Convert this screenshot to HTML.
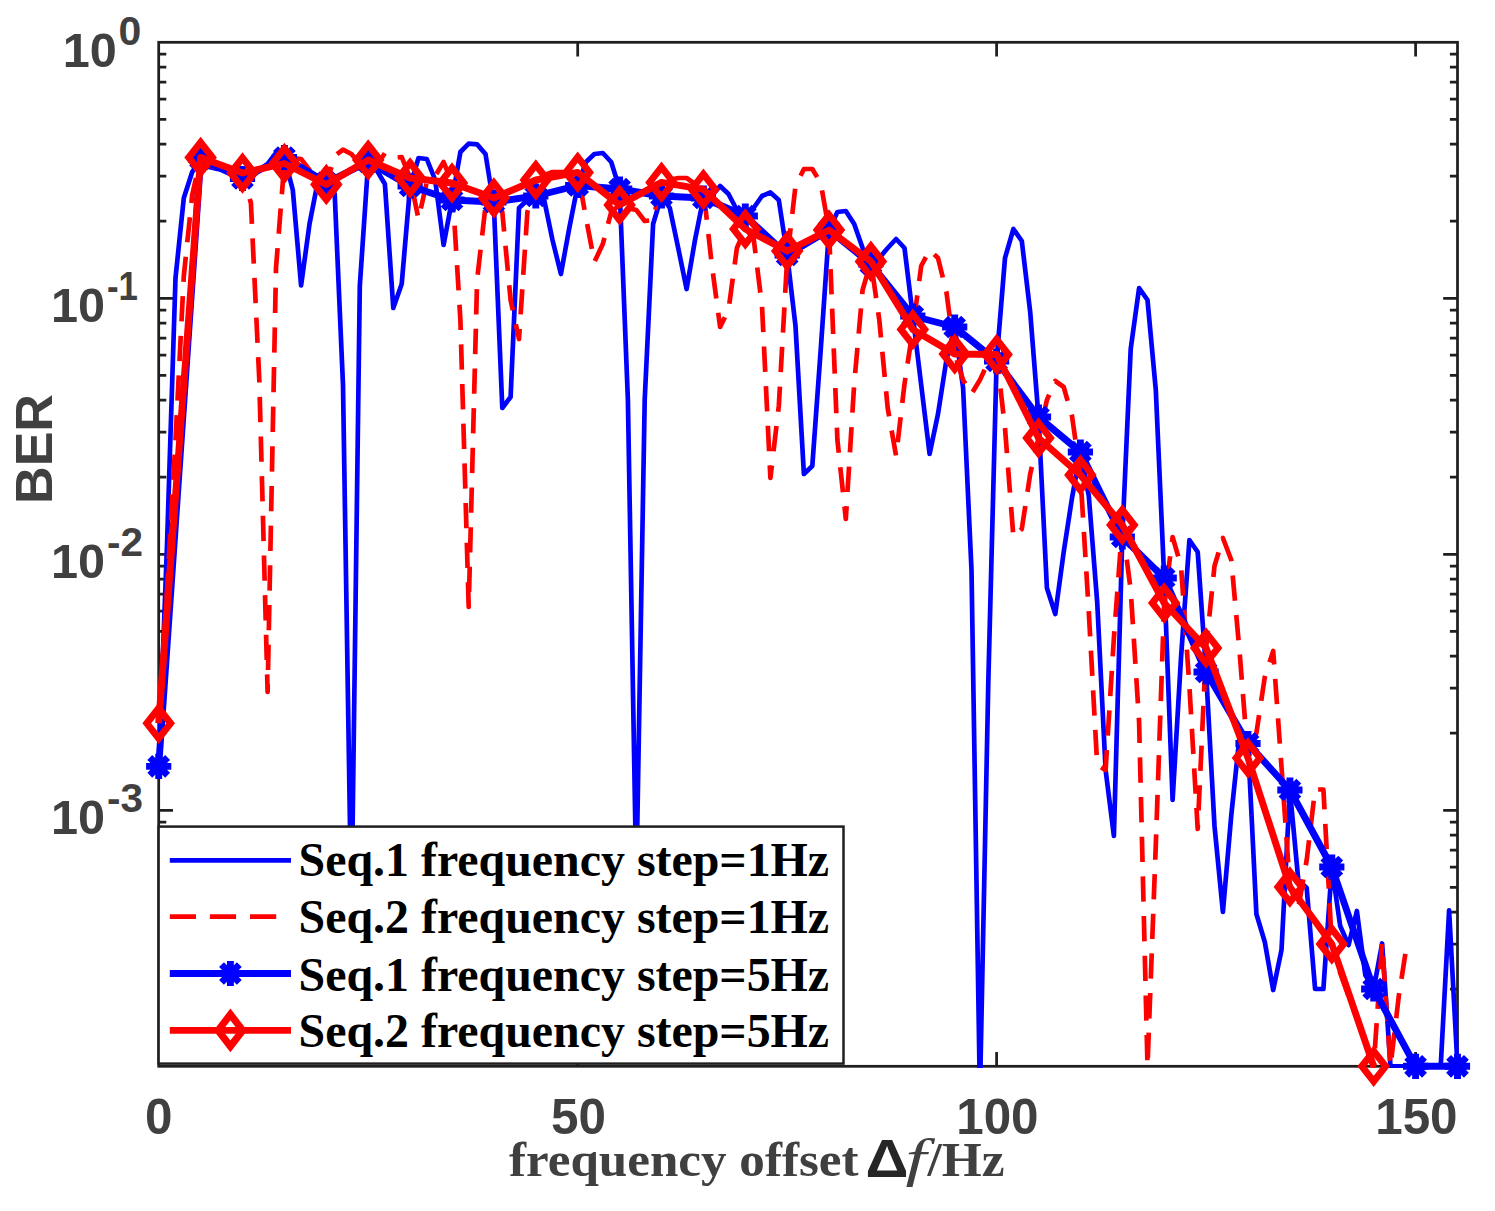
<!DOCTYPE html>
<html lang="en"><head><meta charset="utf-8"><title>BER vs frequency offset</title>
<style>html,body{margin:0;padding:0;background:#fff}svg{display:block}.sans{font-family:"Liberation Sans",Arial,Helvetica,sans-serif;font-weight:bold;fill:#404040}.serif{font-family:"Liberation Serif","Times New Roman",Times,serif;font-weight:bold}</style></head><body>
<svg width="1495" height="1211" viewBox="0 0 1495 1211">
<rect x="0" y="0" width="1495" height="1211" fill="#ffffff"/>
<clipPath id="ax"><rect x="157.39999999999998" y="41.0" width="1301.3999999999999" height="1026.9"/></clipPath>
<rect x="158.7" y="42.3" width="1298.8" height="1024.0" fill="none" stroke="#1f1f1f" stroke-width="2.75"/>
<path d="M158.7,221.2 h7.6 M1457.5,221.2 h-7.6 M158.7,176.2 h7.6 M1457.5,176.2 h-7.6 M158.7,144.2 h7.6 M1457.5,144.2 h-7.6 M158.7,119.4 h7.6 M1457.5,119.4 h-7.6 M158.7,99.1 h7.6 M1457.5,99.1 h-7.6 M158.7,82.0 h7.6 M1457.5,82.0 h-7.6 M158.7,67.1 h7.6 M1457.5,67.1 h-7.6 M158.7,54.0 h7.6 M1457.5,54.0 h-7.6 M158.7,298.3 h14.3 M1457.5,298.3 h-14.3 M158.7,477.2 h7.6 M1457.5,477.2 h-7.6 M158.7,432.2 h7.6 M1457.5,432.2 h-7.6 M158.7,400.2 h7.6 M1457.5,400.2 h-7.6 M158.7,375.4 h7.6 M1457.5,375.4 h-7.6 M158.7,355.1 h7.6 M1457.5,355.1 h-7.6 M158.7,338.0 h7.6 M1457.5,338.0 h-7.6 M158.7,323.1 h7.6 M1457.5,323.1 h-7.6 M158.7,310.0 h7.6 M1457.5,310.0 h-7.6 M158.7,554.3 h14.3 M1457.5,554.3 h-14.3 M158.7,733.2 h7.6 M1457.5,733.2 h-7.6 M158.7,688.2 h7.6 M1457.5,688.2 h-7.6 M158.7,656.2 h7.6 M1457.5,656.2 h-7.6 M158.7,631.4 h7.6 M1457.5,631.4 h-7.6 M158.7,611.1 h7.6 M1457.5,611.1 h-7.6 M158.7,594.0 h7.6 M1457.5,594.0 h-7.6 M158.7,579.1 h7.6 M1457.5,579.1 h-7.6 M158.7,566.0 h7.6 M1457.5,566.0 h-7.6 M158.7,810.3 h14.3 M1457.5,810.3 h-14.3 M158.7,989.2 h7.6 M1457.5,989.2 h-7.6 M158.7,944.2 h7.6 M1457.5,944.2 h-7.6 M158.7,912.2 h7.6 M1457.5,912.2 h-7.6 M158.7,887.4 h7.6 M1457.5,887.4 h-7.6 M158.7,867.1 h7.6 M1457.5,867.1 h-7.6 M158.7,850.0 h7.6 M1457.5,850.0 h-7.6 M158.7,835.1 h7.6 M1457.5,835.1 h-7.6 M158.7,822.0 h7.6 M1457.5,822.0 h-7.6 M577.7,1066.3 v-14.3 M577.7,42.3 v14.3 M996.6,1066.3 v-14.3 M996.6,42.3 v14.3 M1415.6,1066.3 v-14.3 M1415.6,42.3 v14.3" fill="none" stroke="#1f1f1f" stroke-width="2.75"/>
<g clip-path="url(#ax)" fill="none" stroke-linejoin="round">
<polyline points="158.7,766.4 167.1,542.0 175.5,278.0 183.8,198.0 192.2,172.0 200.6,159.0 209.0,167.0 217.4,169.0 225.7,170.0 234.1,176.0 242.5,179.0 250.9,178.0 259.3,170.0 267.6,164.0 276.0,153.0 284.4,157.5 292.8,190.0 301.1,285.5 309.5,224.0 317.9,181.0 326.3,182.5 334.7,194.0 343.0,385.0 351.4,915.0 359.8,286.0 368.2,162.0 376.6,170.0 384.9,184.0 393.3,308.0 401.7,284.0 410.1,186.0 418.5,158.0 426.8,159.0 435.2,180.0 443.6,245.0 452.0,200.0 460.4,152.0 468.7,143.6 477.1,144.4 485.5,154.0 493.9,206.0 502.3,408.0 510.6,397.0 519.0,208.0 527.4,200.0 535.8,196.0 544.2,200.0 552.5,240.0 560.9,274.0 569.3,228.0 577.7,185.5 586.0,162.0 594.4,154.0 602.8,153.0 611.2,162.0 619.6,189.0 627.9,400.0 636.3,882.0 644.7,400.0 653.1,224.0 661.5,196.0 669.8,208.0 678.2,248.0 686.6,289.0 695.0,240.0 703.4,198.0 711.7,196.0 720.1,186.0 728.5,194.0 736.9,210.0 745.3,216.0 753.6,208.0 762.0,196.0 770.4,192.4 778.8,200.0 787.2,255.0 795.5,326.0 803.9,474.0 812.3,466.0 820.7,350.0 829.0,230.0 837.4,212.0 845.8,211.0 854.2,224.0 862.6,248.0 870.9,264.0 879.3,258.0 887.7,248.0 896.1,239.0 904.5,248.0 912.8,316.0 921.2,385.0 929.6,454.0 938.0,414.0 946.4,360.0 954.7,327.0 963.1,388.0 971.5,570.0 979.9,1095.0 988.3,682.0 996.6,361.0 1005.0,258.0 1013.4,229.0 1021.8,241.0 1030.2,312.0 1038.5,417.0 1046.9,588.0 1055.3,614.0 1063.7,552.0 1072.0,498.0 1080.4,452.0 1088.8,496.0 1097.2,602.0 1105.6,770.0 1113.9,836.0 1122.3,537.0 1130.7,349.0 1139.1,288.0 1147.5,300.0 1155.8,390.0 1164.2,578.0 1172.6,800.0 1181.0,658.0 1189.4,540.0 1197.7,552.0 1206.1,672.0 1214.5,826.0 1222.9,912.0 1231.3,815.0 1239.6,736.0 1248.0,743.5 1256.4,914.0 1264.8,942.0 1273.2,990.0 1281.5,950.0 1289.9,790.0 1298.3,880.0 1306.7,888.0 1315.1,989.0 1323.4,989.0 1331.8,867.0 1340.2,926.0 1348.6,945.0 1356.9,911.0 1365.3,975.0 1373.7,989.0 1382.1,943.5 1390.5,1066.3 1398.8,1066.3 1407.2,1066.3 1415.6,1066.3 1424.0,1066.3 1432.4,1066.3 1440.7,1066.3 1449.1,910.4 1457.5,1066.3" stroke="#0000ff" stroke-width="4.7"/>
<polyline points="158.7,723.3 167.1,590.0 175.5,440.0 183.8,276.0 192.2,195.0 200.6,157.5 209.0,165.0 217.4,168.0 225.7,170.0 234.1,172.0 242.5,173.0 250.9,203.0 259.3,380.0 267.6,692.0 276.0,268.0 284.4,162.0 292.8,158.0 301.1,159.0 309.5,170.0 317.9,180.0 326.3,184.5 334.7,156.0 343.0,149.6 351.4,154.0 359.8,164.0 368.2,160.0 376.6,166.0 384.9,153.0 393.3,158.0 401.7,157.0 410.1,178.0 418.5,219.0 426.8,182.0 435.2,176.0 443.6,162.0 452.0,183.0 460.4,320.0 468.7,607.0 477.1,280.0 485.5,206.0 493.9,198.0" stroke="#ff0000" stroke-width="4.7" stroke-dasharray="25.3 14.37" stroke-dashoffset="33.87"/>
<polyline points="493.9,198.0 502.3,212.0 510.6,300.0 519.0,339.0 527.4,212.0 535.8,180.0" stroke="#ff0000" stroke-width="4.7" stroke-dasharray="25.3 14.37" stroke-dashoffset="29.15"/>
<polyline points="535.8,180.0 544.2,175.0 552.5,172.0 560.9,172.0 569.3,172.0 577.7,172.4" stroke="#ff0000" stroke-width="4.7" stroke-dasharray="25.3 14.37" stroke-dashoffset="28.75"/>
<polyline points="577.7,172.4 586.0,218.0 594.4,262.0 602.8,244.0 611.2,212.0 619.6,205.0" stroke="#ff0000" stroke-width="4.7" stroke-dasharray="25.3 14.37" stroke-dashoffset="26.88"/>
<polyline points="619.6,205.0 627.9,208.0 636.3,210.0 644.7,221.0 653.1,220.0 661.5,182.4 669.8,180.0 678.2,178.0 686.6,178.0 695.0,184.0 703.4,189.4 711.7,264.0 720.1,327.0 728.5,310.0 736.9,248.0 745.3,229.0 753.6,238.0 762.0,306.0 770.4,478.0 778.8,406.0 787.2,258.0 795.5,186.0 803.9,169.0 812.3,169.0 820.7,183.0 829.0,230.0 837.4,440.0 845.8,519.0 854.2,384.0 862.6,290.0 870.9,261.4" stroke="#ff0000" stroke-width="4.7" stroke-dasharray="25.3 14.37" stroke-dashoffset="29.21"/>
<polyline points="870.9,261.4 879.3,320.0 887.7,408.0 896.1,456.0 904.5,384.0 912.8,329.4" stroke="#ff0000" stroke-width="4.7" stroke-dasharray="25.3 14.37" stroke-dashoffset="27.93"/>
<polyline points="912.8,329.4 921.2,266.0 929.6,250.0 938.0,258.0 946.4,292.0 954.7,354.0" stroke="#ff0000" stroke-width="4.7" stroke-dasharray="25.3 14.37" stroke-dashoffset="30.62"/>
<polyline points="954.7,354.0 963.1,380.0 971.5,394.0 979.9,380.0 988.3,362.0 996.6,354.5 1005.0,428.0 1013.4,537.0 1021.8,529.0 1030.2,474.0 1038.5,438.0" stroke="#ff0000" stroke-width="4.7" stroke-dasharray="25.3 14.37" stroke-dashoffset="33.45"/>
<polyline points="1038.5,438.0 1046.9,400.0 1055.3,381.0 1063.7,387.0 1072.0,416.0 1080.4,475.0" stroke="#ff0000" stroke-width="4.7" stroke-dasharray="25.3 14.37" stroke-dashoffset="20.28"/>
<polyline points="1080.4,475.0 1088.8,612.0 1097.2,765.0 1105.6,770.0 1113.9,638.0 1122.3,525.0" stroke="#ff0000" stroke-width="4.7" stroke-dasharray="25.3 14.37" stroke-dashoffset="22.36"/>
<polyline points="1122.3,525.0 1130.7,590.0 1139.1,722.0 1147.5,1066.3 1155.8,845.0 1164.2,603.0" stroke="#ff0000" stroke-width="4.7" stroke-dasharray="25.3 14.37" stroke-dashoffset="4.80"/>
<polyline points="1164.2,603.0 1172.6,537.0 1181.0,566.0 1189.4,686.0 1197.7,829.0 1206.1,648.0" stroke="#ff0000" stroke-width="4.7" stroke-dasharray="25.3 14.37" stroke-dashoffset="17.86"/>
<polyline points="1206.1,648.0 1214.5,566.0 1222.9,538.0 1231.3,560.0 1239.6,652.0 1248.0,758.0" stroke="#ff0000" stroke-width="4.7" stroke-dasharray="25.3 14.37" stroke-dashoffset="7.93"/>
<polyline points="1248.0,758.0 1256.4,733.0 1264.8,677.0 1273.2,651.0 1281.5,767.0 1289.9,887.0" stroke="#ff0000" stroke-width="4.7" stroke-dasharray="25.3 14.37" stroke-dashoffset="20.47"/>
<polyline points="1289.9,887.0 1298.3,908.0 1306.7,860.0 1315.1,789.5 1323.4,789.5 1331.8,944.0" stroke="#ff0000" stroke-width="4.7" stroke-dasharray="25.3 14.37" stroke-dashoffset="13.35"/>
<polyline points="1331.8,944.0 1340.2,973.0 1348.6,996.0 1356.9,1019.0 1365.3,1043.0 1373.7,1066.3 1382.1,943.0 1390.5,1066.3 1398.8,996.0 1407.2,942.0" stroke="#ff0000" stroke-width="4.7" stroke-dasharray="25.3 14.37" stroke-dashoffset="11.42"/>
</g>
<g fill="none" stroke-linejoin="round">
<polyline points="158.7,766.4 200.6,159.0 242.5,178.5 284.4,157.5 326.3,182.5 368.2,162.0 410.1,186.0 452.0,200.0 493.9,202.0 535.8,196.0 577.7,185.5 619.6,189.0 661.5,196.0 703.4,198.0 745.3,216.0 787.2,255.0 829.0,230.0 870.9,264.0 912.8,316.0 954.7,327.0 996.6,361.0 1038.5,417.0 1080.4,452.0 1122.3,537.0 1164.2,578.0 1206.1,672.0 1248.0,743.5 1289.9,790.0 1331.8,867.0 1373.7,989.0 1415.6,1066.3 1457.5,1066.3" stroke="#0000ff" stroke-width="6.9"/>
<path transform="translate(158.7,766.4)" d="M0,-12.6 L0,12.6 M-12.6,0 L12.6,0 M-8.91,-8.91 L8.91,8.91 M-8.91,8.91 L8.91,-8.91" fill="none" stroke="#0000ff" stroke-width="6.9"/>
<path transform="translate(200.6,159.0)" d="M0,-12.6 L0,12.6 M-12.6,0 L12.6,0 M-8.91,-8.91 L8.91,8.91 M-8.91,8.91 L8.91,-8.91" fill="none" stroke="#0000ff" stroke-width="6.9"/>
<path transform="translate(242.5,178.5)" d="M0,-12.6 L0,12.6 M-12.6,0 L12.6,0 M-8.91,-8.91 L8.91,8.91 M-8.91,8.91 L8.91,-8.91" fill="none" stroke="#0000ff" stroke-width="6.9"/>
<path transform="translate(284.4,157.5)" d="M0,-12.6 L0,12.6 M-12.6,0 L12.6,0 M-8.91,-8.91 L8.91,8.91 M-8.91,8.91 L8.91,-8.91" fill="none" stroke="#0000ff" stroke-width="6.9"/>
<path transform="translate(326.3,182.5)" d="M0,-12.6 L0,12.6 M-12.6,0 L12.6,0 M-8.91,-8.91 L8.91,8.91 M-8.91,8.91 L8.91,-8.91" fill="none" stroke="#0000ff" stroke-width="6.9"/>
<path transform="translate(368.2,162.0)" d="M0,-12.6 L0,12.6 M-12.6,0 L12.6,0 M-8.91,-8.91 L8.91,8.91 M-8.91,8.91 L8.91,-8.91" fill="none" stroke="#0000ff" stroke-width="6.9"/>
<path transform="translate(410.1,186.0)" d="M0,-12.6 L0,12.6 M-12.6,0 L12.6,0 M-8.91,-8.91 L8.91,8.91 M-8.91,8.91 L8.91,-8.91" fill="none" stroke="#0000ff" stroke-width="6.9"/>
<path transform="translate(452.0,200.0)" d="M0,-12.6 L0,12.6 M-12.6,0 L12.6,0 M-8.91,-8.91 L8.91,8.91 M-8.91,8.91 L8.91,-8.91" fill="none" stroke="#0000ff" stroke-width="6.9"/>
<path transform="translate(493.9,202.0)" d="M0,-12.6 L0,12.6 M-12.6,0 L12.6,0 M-8.91,-8.91 L8.91,8.91 M-8.91,8.91 L8.91,-8.91" fill="none" stroke="#0000ff" stroke-width="6.9"/>
<path transform="translate(535.8,196.0)" d="M0,-12.6 L0,12.6 M-12.6,0 L12.6,0 M-8.91,-8.91 L8.91,8.91 M-8.91,8.91 L8.91,-8.91" fill="none" stroke="#0000ff" stroke-width="6.9"/>
<path transform="translate(577.7,185.5)" d="M0,-12.6 L0,12.6 M-12.6,0 L12.6,0 M-8.91,-8.91 L8.91,8.91 M-8.91,8.91 L8.91,-8.91" fill="none" stroke="#0000ff" stroke-width="6.9"/>
<path transform="translate(619.6,189.0)" d="M0,-12.6 L0,12.6 M-12.6,0 L12.6,0 M-8.91,-8.91 L8.91,8.91 M-8.91,8.91 L8.91,-8.91" fill="none" stroke="#0000ff" stroke-width="6.9"/>
<path transform="translate(661.5,196.0)" d="M0,-12.6 L0,12.6 M-12.6,0 L12.6,0 M-8.91,-8.91 L8.91,8.91 M-8.91,8.91 L8.91,-8.91" fill="none" stroke="#0000ff" stroke-width="6.9"/>
<path transform="translate(703.4,198.0)" d="M0,-12.6 L0,12.6 M-12.6,0 L12.6,0 M-8.91,-8.91 L8.91,8.91 M-8.91,8.91 L8.91,-8.91" fill="none" stroke="#0000ff" stroke-width="6.9"/>
<path transform="translate(745.3,216.0)" d="M0,-12.6 L0,12.6 M-12.6,0 L12.6,0 M-8.91,-8.91 L8.91,8.91 M-8.91,8.91 L8.91,-8.91" fill="none" stroke="#0000ff" stroke-width="6.9"/>
<path transform="translate(787.2,255.0)" d="M0,-12.6 L0,12.6 M-12.6,0 L12.6,0 M-8.91,-8.91 L8.91,8.91 M-8.91,8.91 L8.91,-8.91" fill="none" stroke="#0000ff" stroke-width="6.9"/>
<path transform="translate(829.0,230.0)" d="M0,-12.6 L0,12.6 M-12.6,0 L12.6,0 M-8.91,-8.91 L8.91,8.91 M-8.91,8.91 L8.91,-8.91" fill="none" stroke="#0000ff" stroke-width="6.9"/>
<path transform="translate(870.9,264.0)" d="M0,-12.6 L0,12.6 M-12.6,0 L12.6,0 M-8.91,-8.91 L8.91,8.91 M-8.91,8.91 L8.91,-8.91" fill="none" stroke="#0000ff" stroke-width="6.9"/>
<path transform="translate(912.8,316.0)" d="M0,-12.6 L0,12.6 M-12.6,0 L12.6,0 M-8.91,-8.91 L8.91,8.91 M-8.91,8.91 L8.91,-8.91" fill="none" stroke="#0000ff" stroke-width="6.9"/>
<path transform="translate(954.7,327.0)" d="M0,-12.6 L0,12.6 M-12.6,0 L12.6,0 M-8.91,-8.91 L8.91,8.91 M-8.91,8.91 L8.91,-8.91" fill="none" stroke="#0000ff" stroke-width="6.9"/>
<path transform="translate(996.6,361.0)" d="M0,-12.6 L0,12.6 M-12.6,0 L12.6,0 M-8.91,-8.91 L8.91,8.91 M-8.91,8.91 L8.91,-8.91" fill="none" stroke="#0000ff" stroke-width="6.9"/>
<path transform="translate(1038.5,417.0)" d="M0,-12.6 L0,12.6 M-12.6,0 L12.6,0 M-8.91,-8.91 L8.91,8.91 M-8.91,8.91 L8.91,-8.91" fill="none" stroke="#0000ff" stroke-width="6.9"/>
<path transform="translate(1080.4,452.0)" d="M0,-12.6 L0,12.6 M-12.6,0 L12.6,0 M-8.91,-8.91 L8.91,8.91 M-8.91,8.91 L8.91,-8.91" fill="none" stroke="#0000ff" stroke-width="6.9"/>
<path transform="translate(1122.3,537.0)" d="M0,-12.6 L0,12.6 M-12.6,0 L12.6,0 M-8.91,-8.91 L8.91,8.91 M-8.91,8.91 L8.91,-8.91" fill="none" stroke="#0000ff" stroke-width="6.9"/>
<path transform="translate(1164.2,578.0)" d="M0,-12.6 L0,12.6 M-12.6,0 L12.6,0 M-8.91,-8.91 L8.91,8.91 M-8.91,8.91 L8.91,-8.91" fill="none" stroke="#0000ff" stroke-width="6.9"/>
<path transform="translate(1206.1,672.0)" d="M0,-12.6 L0,12.6 M-12.6,0 L12.6,0 M-8.91,-8.91 L8.91,8.91 M-8.91,8.91 L8.91,-8.91" fill="none" stroke="#0000ff" stroke-width="6.9"/>
<path transform="translate(1248.0,743.5)" d="M0,-12.6 L0,12.6 M-12.6,0 L12.6,0 M-8.91,-8.91 L8.91,8.91 M-8.91,8.91 L8.91,-8.91" fill="none" stroke="#0000ff" stroke-width="6.9"/>
<path transform="translate(1289.9,790.0)" d="M0,-12.6 L0,12.6 M-12.6,0 L12.6,0 M-8.91,-8.91 L8.91,8.91 M-8.91,8.91 L8.91,-8.91" fill="none" stroke="#0000ff" stroke-width="6.9"/>
<path transform="translate(1331.8,867.0)" d="M0,-12.6 L0,12.6 M-12.6,0 L12.6,0 M-8.91,-8.91 L8.91,8.91 M-8.91,8.91 L8.91,-8.91" fill="none" stroke="#0000ff" stroke-width="6.9"/>
<path transform="translate(1373.7,989.0)" d="M0,-12.6 L0,12.6 M-12.6,0 L12.6,0 M-8.91,-8.91 L8.91,8.91 M-8.91,8.91 L8.91,-8.91" fill="none" stroke="#0000ff" stroke-width="6.9"/>
<path transform="translate(1415.6,1066.3)" d="M0,-12.6 L0,12.6 M-12.6,0 L12.6,0 M-8.91,-8.91 L8.91,8.91 M-8.91,8.91 L8.91,-8.91" fill="none" stroke="#0000ff" stroke-width="6.9"/>
<path transform="translate(1457.5,1066.3)" d="M0,-12.6 L0,12.6 M-12.6,0 L12.6,0 M-8.91,-8.91 L8.91,8.91 M-8.91,8.91 L8.91,-8.91" fill="none" stroke="#0000ff" stroke-width="6.9"/>
<polyline points="158.7,723.3 200.6,157.5 242.5,173.0 284.4,163.5 326.3,184.5 368.2,160.0 410.1,178.0 452.0,183.0 493.9,198.0 535.8,180.0 577.7,172.4 619.6,205.0 661.5,182.4 703.4,189.4 745.3,229.0 787.2,251.0 829.0,230.0 870.9,261.4 912.8,329.4 954.7,354.0 996.6,354.5 1038.5,438.0 1080.4,475.0 1122.3,525.0 1164.2,603.0 1206.1,648.0 1248.0,758.0 1289.9,887.0 1331.8,944.0 1373.7,1066.3" stroke="#ff0000" stroke-width="6.9"/>
<path transform="translate(158.7,723.3)" d="M0,-15.2 L11.9,0 L0,15.2 L-11.9,0 Z" fill="none" stroke="#ff0000" stroke-width="6.9" stroke-linejoin="miter" stroke-miterlimit="10"/>
<path transform="translate(200.6,157.5)" d="M0,-15.2 L11.9,0 L0,15.2 L-11.9,0 Z" fill="none" stroke="#ff0000" stroke-width="6.9" stroke-linejoin="miter" stroke-miterlimit="10"/>
<path transform="translate(242.5,173.0)" d="M0,-15.2 L11.9,0 L0,15.2 L-11.9,0 Z" fill="none" stroke="#ff0000" stroke-width="6.9" stroke-linejoin="miter" stroke-miterlimit="10"/>
<path transform="translate(284.4,163.5)" d="M0,-15.2 L11.9,0 L0,15.2 L-11.9,0 Z" fill="none" stroke="#ff0000" stroke-width="6.9" stroke-linejoin="miter" stroke-miterlimit="10"/>
<path transform="translate(326.3,184.5)" d="M0,-15.2 L11.9,0 L0,15.2 L-11.9,0 Z" fill="none" stroke="#ff0000" stroke-width="6.9" stroke-linejoin="miter" stroke-miterlimit="10"/>
<path transform="translate(368.2,160.0)" d="M0,-15.2 L11.9,0 L0,15.2 L-11.9,0 Z" fill="none" stroke="#ff0000" stroke-width="6.9" stroke-linejoin="miter" stroke-miterlimit="10"/>
<path transform="translate(410.1,178.0)" d="M0,-15.2 L11.9,0 L0,15.2 L-11.9,0 Z" fill="none" stroke="#ff0000" stroke-width="6.9" stroke-linejoin="miter" stroke-miterlimit="10"/>
<path transform="translate(452.0,183.0)" d="M0,-15.2 L11.9,0 L0,15.2 L-11.9,0 Z" fill="none" stroke="#ff0000" stroke-width="6.9" stroke-linejoin="miter" stroke-miterlimit="10"/>
<path transform="translate(493.9,198.0)" d="M0,-15.2 L11.9,0 L0,15.2 L-11.9,0 Z" fill="none" stroke="#ff0000" stroke-width="6.9" stroke-linejoin="miter" stroke-miterlimit="10"/>
<path transform="translate(535.8,180.0)" d="M0,-15.2 L11.9,0 L0,15.2 L-11.9,0 Z" fill="none" stroke="#ff0000" stroke-width="6.9" stroke-linejoin="miter" stroke-miterlimit="10"/>
<path transform="translate(577.7,172.4)" d="M0,-15.2 L11.9,0 L0,15.2 L-11.9,0 Z" fill="none" stroke="#ff0000" stroke-width="6.9" stroke-linejoin="miter" stroke-miterlimit="10"/>
<path transform="translate(619.6,205.0)" d="M0,-15.2 L11.9,0 L0,15.2 L-11.9,0 Z" fill="none" stroke="#ff0000" stroke-width="6.9" stroke-linejoin="miter" stroke-miterlimit="10"/>
<path transform="translate(661.5,182.4)" d="M0,-15.2 L11.9,0 L0,15.2 L-11.9,0 Z" fill="none" stroke="#ff0000" stroke-width="6.9" stroke-linejoin="miter" stroke-miterlimit="10"/>
<path transform="translate(703.4,189.4)" d="M0,-15.2 L11.9,0 L0,15.2 L-11.9,0 Z" fill="none" stroke="#ff0000" stroke-width="6.9" stroke-linejoin="miter" stroke-miterlimit="10"/>
<path transform="translate(745.3,229.0)" d="M0,-15.2 L11.9,0 L0,15.2 L-11.9,0 Z" fill="none" stroke="#ff0000" stroke-width="6.9" stroke-linejoin="miter" stroke-miterlimit="10"/>
<path transform="translate(787.2,251.0)" d="M0,-15.2 L11.9,0 L0,15.2 L-11.9,0 Z" fill="none" stroke="#ff0000" stroke-width="6.9" stroke-linejoin="miter" stroke-miterlimit="10"/>
<path transform="translate(829.0,230.0)" d="M0,-15.2 L11.9,0 L0,15.2 L-11.9,0 Z" fill="none" stroke="#ff0000" stroke-width="6.9" stroke-linejoin="miter" stroke-miterlimit="10"/>
<path transform="translate(870.9,261.4)" d="M0,-15.2 L11.9,0 L0,15.2 L-11.9,0 Z" fill="none" stroke="#ff0000" stroke-width="6.9" stroke-linejoin="miter" stroke-miterlimit="10"/>
<path transform="translate(912.8,329.4)" d="M0,-15.2 L11.9,0 L0,15.2 L-11.9,0 Z" fill="none" stroke="#ff0000" stroke-width="6.9" stroke-linejoin="miter" stroke-miterlimit="10"/>
<path transform="translate(954.7,354.0)" d="M0,-15.2 L11.9,0 L0,15.2 L-11.9,0 Z" fill="none" stroke="#ff0000" stroke-width="6.9" stroke-linejoin="miter" stroke-miterlimit="10"/>
<path transform="translate(996.6,354.5)" d="M0,-15.2 L11.9,0 L0,15.2 L-11.9,0 Z" fill="none" stroke="#ff0000" stroke-width="6.9" stroke-linejoin="miter" stroke-miterlimit="10"/>
<path transform="translate(1038.5,438.0)" d="M0,-15.2 L11.9,0 L0,15.2 L-11.9,0 Z" fill="none" stroke="#ff0000" stroke-width="6.9" stroke-linejoin="miter" stroke-miterlimit="10"/>
<path transform="translate(1080.4,475.0)" d="M0,-15.2 L11.9,0 L0,15.2 L-11.9,0 Z" fill="none" stroke="#ff0000" stroke-width="6.9" stroke-linejoin="miter" stroke-miterlimit="10"/>
<path transform="translate(1122.3,525.0)" d="M0,-15.2 L11.9,0 L0,15.2 L-11.9,0 Z" fill="none" stroke="#ff0000" stroke-width="6.9" stroke-linejoin="miter" stroke-miterlimit="10"/>
<path transform="translate(1164.2,603.0)" d="M0,-15.2 L11.9,0 L0,15.2 L-11.9,0 Z" fill="none" stroke="#ff0000" stroke-width="6.9" stroke-linejoin="miter" stroke-miterlimit="10"/>
<path transform="translate(1206.1,648.0)" d="M0,-15.2 L11.9,0 L0,15.2 L-11.9,0 Z" fill="none" stroke="#ff0000" stroke-width="6.9" stroke-linejoin="miter" stroke-miterlimit="10"/>
<path transform="translate(1248.0,758.0)" d="M0,-15.2 L11.9,0 L0,15.2 L-11.9,0 Z" fill="none" stroke="#ff0000" stroke-width="6.9" stroke-linejoin="miter" stroke-miterlimit="10"/>
<path transform="translate(1289.9,887.0)" d="M0,-15.2 L11.9,0 L0,15.2 L-11.9,0 Z" fill="none" stroke="#ff0000" stroke-width="6.9" stroke-linejoin="miter" stroke-miterlimit="10"/>
<path transform="translate(1331.8,944.0)" d="M0,-15.2 L11.9,0 L0,15.2 L-11.9,0 Z" fill="none" stroke="#ff0000" stroke-width="6.9" stroke-linejoin="miter" stroke-miterlimit="10"/>
<path transform="translate(1373.7,1066.3)" d="M0,-15.2 L11.9,0 L0,15.2 L-11.9,0 Z" fill="none" stroke="#ff0000" stroke-width="6.9" stroke-linejoin="miter" stroke-miterlimit="10"/>
</g>
<rect x="158.6" y="826.6" width="684.9" height="236.9999999999999" fill="#ffffff" stroke="#1f1f1f" stroke-width="2.5"/>
<path d="M169.8,860.3 H291.0" stroke="#0000ff" stroke-width="4.7" fill="none"/>
<path d="M169.8,916.6 H276.2" stroke="#ff0000" stroke-width="4.7" stroke-dasharray="26.2 13.9" fill="none"/>
<path d="M169.8,973.5 H291.0" stroke="#0000ff" stroke-width="6.9" fill="none"/>
<path transform="translate(230.4,973.5)" d="M0,-12.6 L0,12.6 M-12.6,0 L12.6,0 M-8.91,-8.91 L8.91,8.91 M-8.91,8.91 L8.91,-8.91" fill="none" stroke="#0000ff" stroke-width="6.9"/>
<path d="M169.8,1030.4 H291.0" stroke="#ff0000" stroke-width="6.9" fill="none"/>
<path transform="translate(230.4,1030.4)" d="M0,-15.9 L12.3,0 L0,15.9 L-12.3,0 Z" fill="none" stroke="#ff0000" stroke-width="7.2" stroke-linejoin="miter" stroke-miterlimit="10"/>
<text class="serif" x="298.6" y="876.3" font-size="48" fill="#000000" textLength="530.5" lengthAdjust="spacingAndGlyphs">Seq.1 frequency step=1Hz</text>
<text class="serif" x="298.6" y="933.4" font-size="48" fill="#000000" textLength="530.5" lengthAdjust="spacingAndGlyphs">Seq.2 frequency step=1Hz</text>
<text class="serif" x="298.6" y="990.6" font-size="48" fill="#000000" textLength="530.5" lengthAdjust="spacingAndGlyphs">Seq.1 frequency step=5Hz</text>
<text class="serif" x="298.6" y="1047.2" font-size="48" fill="#000000" textLength="530.5" lengthAdjust="spacingAndGlyphs">Seq.2 frequency step=5Hz</text>
<text class="sans" x="158.7" y="1134.3" font-size="49.4" text-anchor="middle">0</text>
<text class="sans" x="578.5" y="1134.3" font-size="49.4" text-anchor="middle">50</text>
<text class="sans" x="997.4" y="1134.3" font-size="49.4" text-anchor="middle">100</text>
<text class="sans" x="1416.4" y="1134.3" font-size="49.4" text-anchor="middle">150</text>
<text class="sans" x="116.8" y="66.9" font-size="48.6" text-anchor="end">10</text>
<text class="sans" x="118.6" y="45.2" font-size="41">0</text>
<text class="sans" x="105.0" y="322.3" font-size="48.6" text-anchor="end">10</text>
<text class="sans" x="107.0" y="300.2" font-size="40.5" textLength="31" lengthAdjust="spacingAndGlyphs">-1</text>
<text class="sans" x="105.0" y="578.3" font-size="48.6" text-anchor="end">10</text>
<text class="sans" x="107.0" y="556.2" font-size="40.5">-2</text>
<text class="sans" x="105.0" y="834.3" font-size="48.6" text-anchor="end">10</text>
<text class="sans" x="107.0" y="812.2" font-size="40.5">-3</text>
<text class="sans" transform="translate(52,449) rotate(-90)" font-size="52" text-anchor="middle">BER</text>
<text class="serif" x="509" y="1175.8" font-size="49" fill="#404040" textLength="349.5" lengthAdjust="spacingAndGlyphs">frequency offset</text>
<text class="sans" x="865.6" y="1176.8" font-size="54.5" style="fill:#262626" textLength="43" lengthAdjust="spacingAndGlyphs">Δ</text>
<text transform="translate(905.5,1175.8) scale(1.45,1)" font-family="Liberation Serif, Times New Roman, serif" font-style="italic" font-size="52" fill="#404040">f</text>
<text class="serif" x="927.5" y="1175.8" font-size="49" fill="#404040" textLength="77" lengthAdjust="spacingAndGlyphs">/Hz</text>
</svg></body></html>
